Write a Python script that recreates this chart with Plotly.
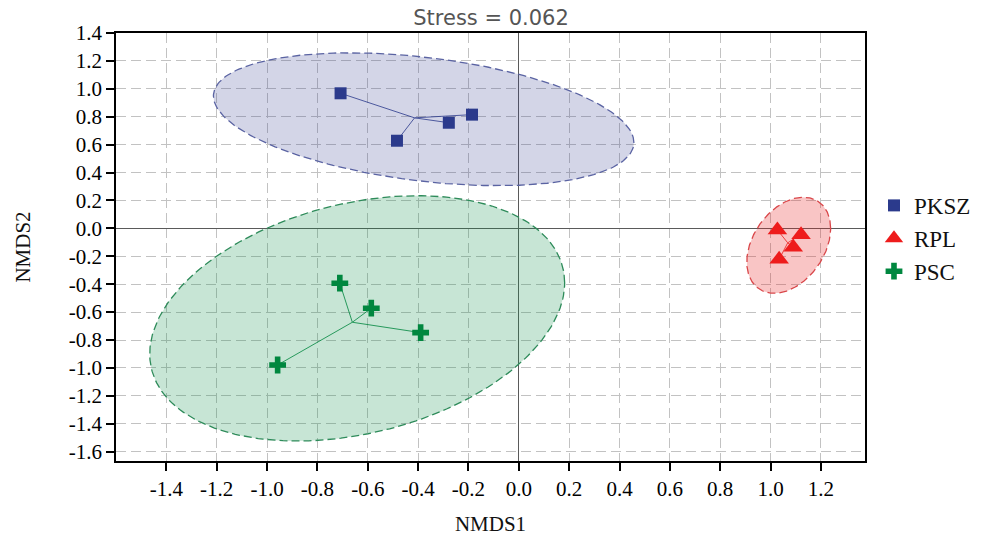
import numpy as np
import plotly.graph_objects as go

# ---------------- data ----------------
groups = ["PKSZ", "RPL", "PSC"]

pksz_x = [-0.708, -0.484, -0.278, -0.186]
pksz_y = [0.968, 0.628, 0.757, 0.815]

rpl_x = [1.027, 1.121, 1.090, 1.034]
rpl_y = [-0.011, -0.045, -0.136, -0.222]

psc_x = [-0.711, -0.586, -0.390, -0.958]
psc_y = [-0.393, -0.572, -0.747, -0.979]

# confidence ellipses: centre, half-extent along x / y, correlation
ell_cx = [-0.378, 1.072, -0.642]
ell_cy = [0.782, -0.121, -0.645]
ell_rx = [0.835, 0.1665, 0.824]
ell_ry = [0.476, 0.344, 0.879]
ell_rho = [-0.35, 0.35, 0.29]

stress = 0.062

x_ticks = [-1.4, -1.2, -1.0, -0.8, -0.6, -0.4, -0.2, 0.0, 0.2, 0.4, 0.6, 0.8, 1.0, 1.2]
y_ticks = [-1.6, -1.4, -1.2, -1.0, -0.8, -0.6, -0.4, -0.2, 0.0, 0.2, 0.4, 0.6, 0.8, 1.0, 1.2, 1.4]
x_labels = [f"{v:.1f}" for v in x_ticks]
y_labels = [f"{v:.1f}" for v in y_ticks]

# ---------------- styles ----------------
xs = [pksz_x, rpl_x, psc_x]
ys = [pksz_y, rpl_y, psc_y]
marker_col = ["#2B3A8C", "#EE1C1C", "#00873F"]
fill_col = ["rgba(46,58,140,0.21)", "rgba(232,40,40,0.27)", "rgba(20,145,80,0.24)"]
edge_col = ["#5A63A2", "#D9474A", "#2E8B5A"]
symbols = ["square", "triangle-up", "cross"]
sizes = [12, 17, 14]

fig = go.Figure()

t = np.linspace(0, 2 * np.pi, 241)
for i in range(3):
    phi = np.arccos(ell_rho[i])
    ex = ell_cx[i] + ell_rx[i] * np.cos(t)
    ey = ell_cy[i] + ell_ry[i] * np.cos(t - phi)
    fig.add_trace(go.Scatter(
        x=ex, y=ey, mode="lines", fill="toself", fillcolor=fill_col[i],
        line=dict(color=edge_col[i], width=1.3, dash="8px,4px"),
        hoverinfo="skip", showlegend=False))

for i in range(3):
    cx = float(np.mean(xs[i]))
    cy = float(np.mean(ys[i]))
    lx, ly = [], []
    for px, py in zip(xs[i], ys[i]):
        lx += [cx, px, None]
        ly += [cy, py, None]
    fig.add_trace(go.Scatter(
        x=lx, y=ly, mode="lines",
        line=dict(color=marker_col[i], width=1),
        opacity=0.8, hoverinfo="skip", showlegend=False))

for i in range(3):
    fig.add_trace(go.Scatter(
        x=xs[i], y=ys[i], mode="markers", name=groups[i],
        marker=dict(symbol=symbols[i], size=sizes[i], color=marker_col[i],
                    line=dict(width=0))))

axis_common = dict(
    showline=True, linecolor="black", linewidth=1.5, mirror=True,
    ticks="outside", ticklen=8, tickwidth=1.5, tickcolor="black",
    showgrid=True, gridcolor="#c2c2c2", gridwidth=1, griddash="10px,5px",
    zeroline=True, zerolinecolor="#5a5a5a", zerolinewidth=1.2,
    tickfont=dict(family="Liberation Serif", size=21, color="#000"),
    automargin=False,
)

fig.update_layout(
    width=988, height=537,
    margin=dict(l=116, r=121, t=33, b=76),
    paper_bgcolor="white", plot_bgcolor="white",
    title=dict(text=f"Stress = {stress}", x=0.497, xanchor="center",
               y=1 - 18 / 537, yanchor="middle",
               font=dict(family="DejaVu Sans", size=21, color="#555")),
    xaxis=dict(range=[-1.6, 1.375], tickmode="array", tickvals=x_ticks,
               ticktext=x_labels,
               title=dict(text="NMDS1", standoff=16,
                          font=dict(family="Liberation Serif", size=21, color="#111")),
               **axis_common),
    yaxis=dict(range=[-1.667, 1.4], tickmode="array", tickvals=y_ticks,
               ticktext=y_labels,
               title=dict(text="NMDS2", standoff=32,
                          font=dict(family="Liberation Serif", size=21, color="#111")),
               **axis_common),
    legend=dict(x=1.012, xanchor="left", y=0.52, yanchor="middle",
                font=dict(family="Liberation Serif", size=23, color="#111"),
                bgcolor="rgba(0,0,0,0)", tracegroupgap=0, itemwidth=30),
    showlegend=True,
)

fig.write_html("out.html")
